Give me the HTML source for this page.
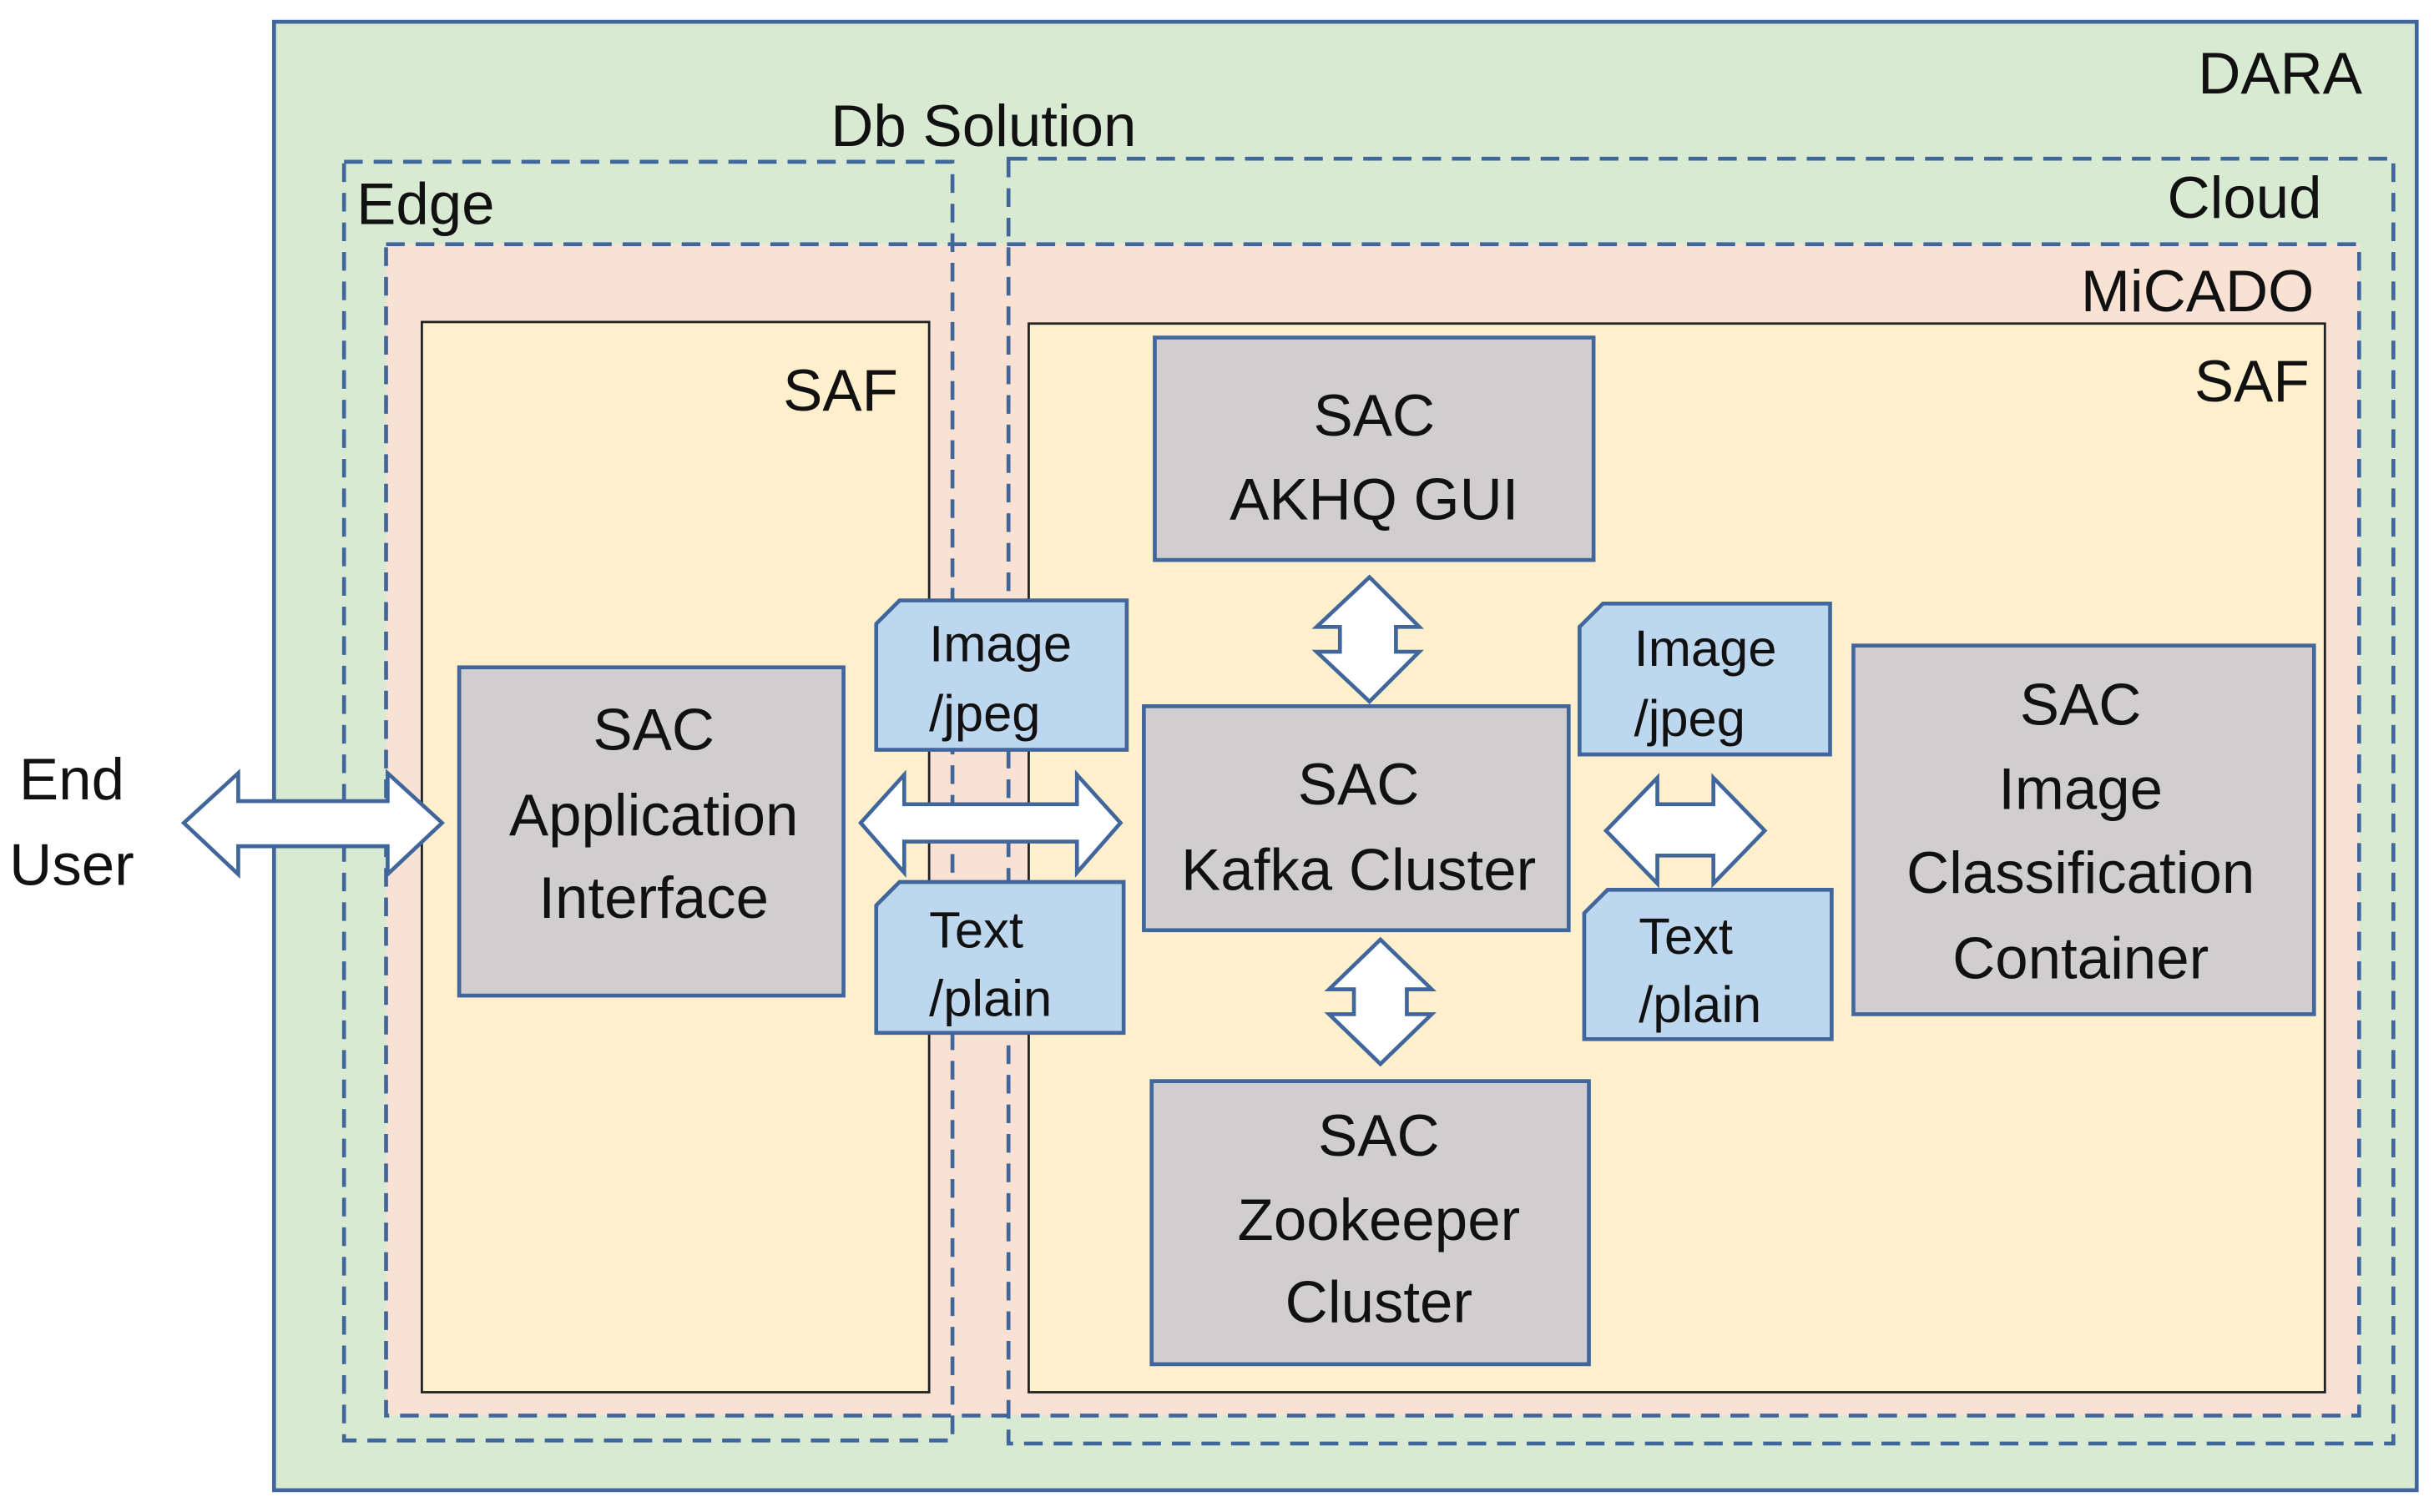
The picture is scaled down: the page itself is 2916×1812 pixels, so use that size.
<!DOCTYPE html>
<html><head><meta charset="utf-8"><style>
html,body{margin:0;padding:0;background:#fff;}
svg{display:block;}
text{font-family:"Liberation Sans",sans-serif;font-size:38px;fill:#111;}
</style></head><body>
<svg width="2916" height="1812" viewBox="0 0 1564 972" xmlns="http://www.w3.org/2000/svg">
<rect x="0" y="0" width="1564" height="972" fill="#fff"/>
<rect x="176" y="14" width="1377" height="944" fill="#d9ead3" stroke="#41669b" stroke-width="2.5"/>
<text x="1518" y="60" text-anchor="end">DARA</text>
<text x="632" y="94" text-anchor="middle">Db Solution</text>
<rect x="248" y="157" width="1268" height="753" fill="#f9e1d4"/>
<g fill="none" stroke="#41669b" stroke-width="2.5" stroke-dasharray="12,7">
<rect x="221" y="104" width="391" height="822"/>
<rect x="648" y="102" width="890" height="826"/>
<rect x="248" y="157" width="1268" height="753"/>
</g>
<text x="229" y="144">Edge</text>
<text x="1492" y="140" text-anchor="end">Cloud</text>
<text x="1487" y="200" text-anchor="end">MiCADO</text>
<rect x="271" y="207" width="326" height="688" fill="#fff0cd" stroke="#222" stroke-width="1.5"/>
<rect x="661" y="208" width="833" height="687" fill="#fff0cd" stroke="#222" stroke-width="1.5"/>
<text x="577" y="264" text-anchor="end">SAF</text>
<text x="1484" y="258" text-anchor="end">SAF</text>
<g fill="#d0cece" stroke="#41669b" stroke-width="2.5">
<rect x="742" y="217" width="282" height="143"/>
<rect x="295" y="429" width="247" height="211"/>
<rect x="735" y="454" width="273" height="144"/>
<rect x="740" y="695" width="281" height="182"/>
<rect x="1191" y="415" width="296" height="237"/>
</g>
<g text-anchor="middle">
<text x="883" y="280">SAC</text><text x="883" y="334">AKHQ GUI</text>
<text x="420" y="482">SAC</text><text x="420" y="537">Application</text><text x="420" y="590">Interface</text>
<text x="873" y="517">SAC</text><text x="873" y="572">Kafka Cluster</text>
<text x="886" y="743">SAC</text><text x="886" y="797">Zookeeper</text><text x="886" y="850">Cluster</text>
<text x="1337" y="466">SAC</text><text x="1337" y="520">Image</text><text x="1337" y="574">Classification</text><text x="1337" y="629">Container</text>
</g>
<g fill="#bdd7ee" stroke="#41669b" stroke-width="2.5">
<path d="M578 386 H724 V482 H563 V401 Z"/>
<path d="M578 567 H722 V664 H563 V582 Z"/>
<path d="M1030 388 H1176 V485 H1015 V403 Z"/>
<path d="M1033 572 H1177 V668 H1018 V587 Z"/>
</g>
<g>
<text x="597" y="425" style="font-size:33px">Image</text><text x="597" y="470" style="font-size:33px">/jpeg</text>
<text x="597" y="609" style="font-size:33px">Text</text><text x="597" y="653" style="font-size:33px">/plain</text>
<text x="1050" y="428" style="font-size:33px">Image</text><text x="1050" y="473" style="font-size:33px">/jpeg</text>
<text x="1053" y="613" style="font-size:33px">Text</text><text x="1053" y="657" style="font-size:33px">/plain</text>
</g>
<g fill="#fff" stroke="#41669b" stroke-width="2.5" stroke-linejoin="miter">
<path d="M118 529 L153 497 V515 H249 V497 L284 529 L249 562 V544 H153 V562 Z"/>
<path d="M553 529 L581 498 V517 H692 V498 L720 529 L692 561 V541 H581 V561 Z"/>
<path d="M1032 534 L1065 500 V517 H1101 V500 L1134 534 L1101 568 V550 H1065 V568 Z"/>
<path d="M880 371 L912 403 H897 V419 H912 L880 451 L846 419 H861 V403 H846 Z"/>
<path d="M887 604 L920 636 H904 V652 H920 L887 684 L854 652 H870 V636 H854 Z"/>
</g>
<text x="46" y="514" text-anchor="middle">End</text>
<text x="46" y="569" text-anchor="middle">User</text>
</svg>
</body></html>
